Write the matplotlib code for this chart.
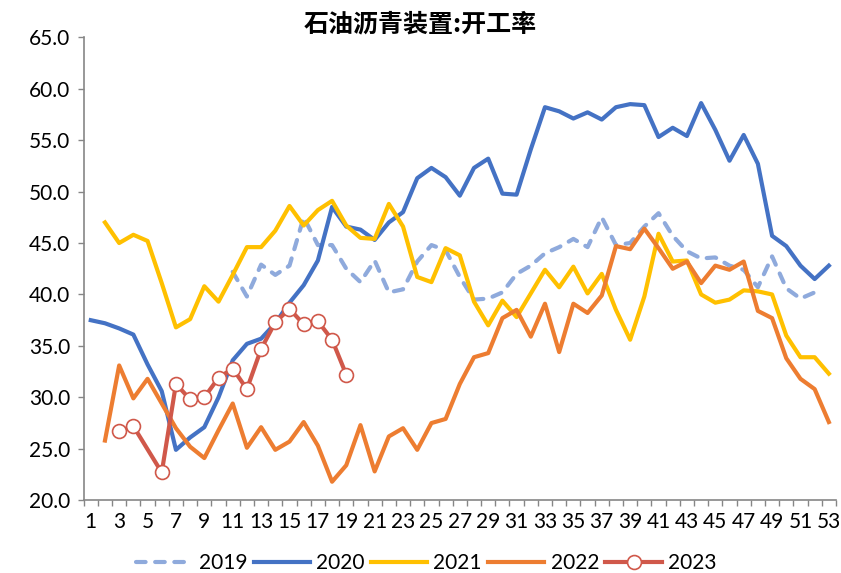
import numpy as np
import matplotlib
matplotlib.use("Agg")
import matplotlib.pyplot as plt
from matplotlib.ticker import MultipleLocator, FixedLocator

plt.rcParams['font.family'] = ['Lato', 'DejaVu Sans']

weeks = list(range(1, 54))

# week -> value
y2019_weeks = list(range(11, 53))
y2019 = [42.2, 39.8, 42.9, 41.9, 42.8, 47.5, 44.8, 44.8, 42.5, 41.2,
         43.3, 40.2, 40.5, 43.2, 44.8, 44.3, 41.7, 39.5, 39.6, 40.2,
         42.0, 42.8, 44.0, 44.6, 45.4, 44.6, 47.5, 44.8, 45.0, 46.6,
         47.9, 45.7, 44.2, 43.5, 43.6, 42.8, 42.4, 40.7, 43.7, 40.6,
         39.6, 40.2]

y2020_weeks = list(range(1, 54))
y2020 = [37.5, 37.2, 36.7, 36.1, 33.2, 30.6, 24.9, 26.1, 27.1, 30.0,
         33.6, 35.2, 35.7, 37.2, 39.2, 40.9, 43.3, 48.5, 46.6, 46.3,
         45.3, 47.0, 48.0, 51.3, 52.3, 51.4, 49.6, 52.3, 53.2, 49.8,
         49.7, 54.1, 58.2, 57.8, 57.1, 57.7, 57.0, 58.2, 58.5, 58.4,
         55.3, 56.2, 55.4, 58.6, 56.0, 53.0, 55.5, 52.7, 45.7, 44.7,
         42.8, 41.5, 42.8]

y2021_weeks = list(range(2, 54))
y2021 = [47.0, 45.0, 45.8, 45.2, 41.1, 36.8, 37.6, 40.8, 39.3, 41.9,
         44.6, 44.6, 46.2, 48.6, 46.7, 48.2, 49.1, 46.7, 45.5, 45.4,
         48.8, 46.6, 41.7, 41.2, 44.5, 43.8, 39.3, 37.0, 39.4, 37.8,
         40.1, 42.4, 40.7, 42.7, 40.1, 42.0, 38.5, 35.6, 39.8, 45.9,
         43.2, 43.3, 40.0, 39.2, 39.5, 40.4, 40.3, 40.0, 36.0, 33.9,
         33.9, 32.3]

y2022_weeks = list(range(2, 54))
y2022 = [25.8, 33.1, 29.9, 31.8, 29.4, 27.0, 25.2, 24.1, 26.8, 29.4,
         25.1, 27.1, 24.9, 25.7, 27.6, 25.3, 21.8, 23.4, 27.3, 22.8,
         26.2, 27.0, 24.9, 27.5, 27.9, 31.3, 33.9, 34.3, 37.7, 38.5,
         35.9, 39.1, 34.4, 39.1, 38.2, 39.9, 44.7, 44.4, 46.4, 44.5,
         42.5, 43.2, 41.1, 42.8, 42.4, 43.2, 38.4, 37.7, 33.8, 31.8,
         30.8, 27.6]

y2023_weeks = [3, 4, 6, 7, 8, 9, 10, 11, 12, 13, 14, 15, 16, 17, 18, 19]
y2023 = [26.7, 27.2, 22.7, 31.3, 29.8, 30.0, 31.9, 32.8, 30.8, 34.7,
         37.3, 38.6, 37.1, 37.4, 35.6, 32.2]

c2019 = '#8FAADC'
c2020 = '#4472C4'
c2021 = '#FFC000'
c2022 = '#ED7D31'
c2023 = '#D0584A'

fig = plt.figure(figsize=(8.41, 5.73), dpi=100)
ax = fig.add_axes([0.0995, 0.127, 0.8945, 0.808])

lw = 3.0
ax.plot(y2019_weeks, y2019, color=c2019, lw=lw, dashes=(2.3, 2.3),
        dash_capstyle='round', solid_joinstyle='round', label='2019')
ax.plot(y2020_weeks, y2020, color=c2020, lw=lw, solid_joinstyle='round', label='2020')
ax.plot(y2021_weeks, y2021, color=c2021, lw=lw, solid_joinstyle='round', label='2021')
ax.plot(y2022_weeks, y2022, color=c2022, lw=lw, solid_joinstyle='round', label='2022')
ax.plot(y2023_weeks, y2023, color=c2023, lw=lw, solid_joinstyle='round',
        marker='o', markersize=10, markerfacecolor='white',
        markeredgecolor=c2023, markeredgewidth=1.2, label='2023')

ax.set_xlim(0.5, 53.5)
ax.set_ylim(20, 65)
ax.yaxis.set_major_locator(MultipleLocator(5))
ax.set_yticklabels([f'{v:.1f}' for v in ax.get_yticks()])

# odd week labels, tick marks on category boundaries
ax.set_xticks(weeks[::2])
ax.set_xticklabels([str(w) for w in weeks[::2]])
ax.xaxis.set_minor_locator(FixedLocator(np.arange(0.5, 54, 1)))
ax.tick_params(axis='x', which='major', length=0, pad=8.5, labelsize=15, colors='#000000')
ax.tick_params(axis='x', which='minor', length=4.5, width=1, color='#868686', direction='out')
ax.tick_params(axis='y', length=4.5, width=1, color='#868686', labelsize=15, pad=5)

for side in ['top', 'right']:
    ax.spines[side].set_visible(False)
for side in ['left', 'bottom']:
    ax.spines[side].set_color('#868686')
    ax.spines[side].set_linewidth(1.2)

fig.suptitle('石油沥青装置:开工率', x=0.5, y=0.978, fontsize=18, fontweight='bold',
             family=['Noto Sans CJK SC', 'DejaVu Sans'])

fig.legend(loc='center', bbox_to_anchor=(0.507, 0.017), ncol=5, frameon=False,
           fontsize=15, handlelength=2.7, handletextpad=0.3, columnspacing=0.3,
           borderpad=0.2)

fig.savefig('out.png', dpi=100)
